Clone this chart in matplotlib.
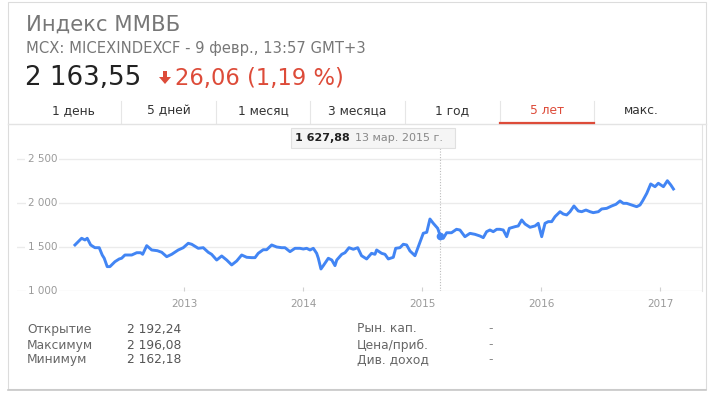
import matplotlib.pyplot as plt
from matplotlib.patches import Rectangle, Polygon
from matplotlib.lines import Line2D
import matplotlib.transforms as mtransforms

plt.rcParams['font.family'] = ['DejaVu Sans']

# index values (decimal year, points)
years = [2012.084, 2012.140, 2012.168, 2012.187, 2012.216, 2012.252, 2012.288, 2012.313,
         2012.330, 2012.355, 2012.378, 2012.420, 2012.456, 2012.476, 2012.504, 2012.561,
         2012.603, 2012.636, 2012.653, 2012.687, 2012.729, 2012.776, 2012.813, 2012.855,
         2012.897, 2012.952, 2012.994, 2013.036, 2013.065, 2013.120, 2013.162, 2013.204,
         2013.232, 2013.275, 2013.317, 2013.359, 2013.401, 2013.443, 2013.485, 2013.527,
         2013.569, 2013.597, 2013.624, 2013.666, 2013.695, 2013.737, 2013.779, 2013.821,
         2013.849, 2013.891, 2013.933, 2013.975, 2014.003, 2014.031, 2014.059, 2014.087,
         2014.115, 2014.129, 2014.151, 2014.171, 2014.213, 2014.242, 2014.269, 2014.284,
         2014.326, 2014.353, 2014.387, 2014.423, 2014.460, 2014.492, 2014.535, 2014.576,
         2014.605, 2014.619, 2014.661, 2014.689, 2014.717, 2014.759, 2014.779, 2014.815,
         2014.843, 2014.871, 2014.899, 2014.941, 2014.983, 2015.011, 2015.040, 2015.067,
         2015.095, 2015.132, 2015.151, 2015.179, 2015.207, 2015.248, 2015.290, 2015.319,
         2015.361, 2015.403, 2015.445, 2015.487, 2015.515, 2015.543, 2015.571, 2015.599,
         2015.628, 2015.655, 2015.683, 2015.712, 2015.734, 2015.782, 2015.809, 2015.838,
         2015.866, 2015.908, 2015.950, 2015.977, 2016.006, 2016.034, 2016.061, 2016.090,
         2016.118, 2016.160, 2016.187, 2016.216, 2016.244, 2016.277, 2016.313, 2016.342,
         2016.378, 2016.412, 2016.439, 2016.482, 2016.510, 2016.552, 2016.594, 2016.630,
         2016.664, 2016.692, 2016.720, 2016.762, 2016.804, 2016.832, 2016.855, 2016.889,
         2016.922, 2016.958, 2016.986, 2017.029, 2017.062, 2017.091, 2017.113]
values = [1523, 1599, 1580, 1599, 1523, 1492, 1492, 1409,
          1372, 1277, 1277, 1333, 1364, 1372, 1409, 1409,
          1435, 1435, 1417, 1515, 1466, 1458, 1440, 1390,
          1417, 1466, 1492, 1542, 1531, 1485, 1492, 1440,
          1417, 1352, 1398, 1352, 1296, 1341, 1409, 1383,
          1379, 1379, 1428, 1469, 1469, 1523, 1500, 1492,
          1492, 1447, 1485, 1485, 1477, 1485, 1466, 1485,
          1428, 1372, 1250, 1288, 1372, 1352, 1288, 1352,
          1417, 1435, 1492, 1474, 1492, 1401, 1364, 1428,
          1417, 1466, 1428, 1417, 1364, 1383, 1485, 1492,
          1531, 1523, 1455, 1401, 1553, 1656, 1667, 1818,
          1769, 1712, 1636, 1599, 1662, 1662, 1701, 1693,
          1617, 1655, 1644, 1625, 1606, 1674, 1693, 1674,
          1701, 1701, 1693, 1617, 1712, 1731, 1739, 1807,
          1761, 1724, 1739, 1769, 1617, 1769, 1788, 1788,
          1845, 1901, 1875, 1864, 1901, 1966, 1909, 1901,
          1920, 1901, 1890, 1901, 1932, 1939, 1966, 1985,
          2023, 1996, 1996, 1977, 1958, 1977, 2026, 2110,
          2216, 2185, 2224, 2185, 2253, 2204, 2159]

y_ticks = [1000, 1500, 2000, 2500]
y_labels = ['1 000', '1 500', '2 000', '2 500']
x_ticks = [2013, 2014, 2015, 2016, 2017]
x_labels = ['2013', '2014', '2015', '2016', '2017']

tabs = ['1 день', '5 дней', '1 месяц', '3 месяца', '1 год', '5 лет', 'макс.']
stat_names = ['Открытие', 'Максимум', 'Минимум']
stat_values = ['2 192,24', '2 196,08', '2 162,18']
stat_names2 = ['Рын. кап.', 'Цена/приб.', 'Див. доход']

hover_x = 2015.151
hover_y = 1627.88
hover_val = '1 627,88'
hover_date = '13 мар. 2015 г.'

W, H = 713, 395
fig = plt.figure(figsize=(W / 100, H / 100), dpi=100)


def fx(x):
    return x / W


def fy(y):
    return 1 - y / H


# card
fig.patches.append(Rectangle((fx(8), fy(389)), fx(706) - fx(8), fy(2) - fy(389),
                             transform=fig.transFigure, facecolor='white',
                             edgecolor='#dcdcdc', linewidth=0.8, zorder=-2))
fig.lines.append(Line2D([fx(8), fx(706)], [fy(390), fy(390)], transform=fig.transFigure,
                        color='#c8c8c8', linewidth=1.2, zorder=-1))

# header
fig.text(fx(26), fy(25), 'Индекс ММВБ', fontsize=15.2, color='#777777', va='center')
fig.text(fx(26), fy(48), 'MCX: MICEXINDEXCF - 9 февр., 13:57 GMT+3', fontsize=10.6,
         color='#777777', va='center')
fig.text(fx(25), fy(78), '2 163,55', fontsize=18.8, color='#222222', va='center')
fig.patches.append(Polygon([(fx(163), fy(71)), (fx(167), fy(71)), (fx(167), fy(77)),
                            (fx(171), fy(77)), (fx(165), fy(84)), (fx(159), fy(77)),
                            (fx(163), fy(77))],
                           closed=True, transform=fig.transFigure,
                           facecolor='#dd4b39', edgecolor='none'))
fig.text(fx(175), fy(78), '26,06 (1,19 %)', fontsize=16.3, color='#dd4b39', va='center')

# tabs
tab_left, tab_w = 26.5, 94.6
for i, t in enumerate(tabs):
    cx = tab_left + tab_w * (i + 0.5)
    fig.text(fx(cx), fy(111), t, fontsize=8.8, ha='center', va='center',
             color='#dd4b39' if t == '5 лет' else '#333333')
    if i > 0:
        sx = tab_left + tab_w * i
        fig.lines.append(Line2D([fx(sx), fx(sx)], [fy(101), fy(123)],
                                transform=fig.transFigure, color='#e6e6e6', linewidth=0.8))
fig.lines.append(Line2D([fx(8), fx(706)], [fy(124), fy(124)], transform=fig.transFigure,
                        color='#e3e3e3', linewidth=1))
sel = tabs.index('5 лет')
fig.lines.append(Line2D([fx(tab_left + tab_w * sel), fx(tab_left + tab_w * (sel + 1))],
                        [fy(122.5), fy(122.5)], transform=fig.transFigure,
                        color='#dd4b39', linewidth=1.6))

# chart
ax = fig.add_axes([fx(17), fy(291), fx(702) - fx(17), fy(125) - fy(291)])
ax.patch.set_alpha(0)
ax.set_xlim(2011.597, 2017.353)
ax.set_ylim(1000, 2886)
for s in ['top', 'left', 'bottom']:
    ax.spines[s].set_visible(False)
ax.spines['right'].set_color('#e3e3e3')
ax.set_yticks([])
for v in y_ticks:
    ax.axhline(v, color='#ebebeb', linewidth=1, zorder=0)
trans = mtransforms.blended_transform_factory(ax.transAxes, ax.transData)
for v, lab in zip(y_ticks, y_labels):
    ax.text((57 - 17) / (702 - 17), v, lab, transform=trans, ha='right', va='center',
            fontsize=7.5, color='#9a9a9a',
            bbox=dict(facecolor='white', edgecolor='none', pad=1.5))
ax.set_xticks(x_ticks)
ax.set_xticklabels(x_labels)
ax.tick_params(axis='x', direction='in', length=3, width=0.8, color='#d0d0d0',
               labelsize=7.5, labelcolor='#9a9a9a', pad=6)

ax.axvline(hover_x, ymin=0, ymax=(291 - 148) / (291 - 125), color='#bbbbbb',
           linestyle=(0, (1, 1.5)), linewidth=0.8, zorder=1)
ax.plot(years, values, color='#4285f4', linewidth=2.1, solid_joinstyle='round', zorder=3)
ax.plot([hover_x], [hover_y], 'o', color='#4285f4', markersize=4.5, zorder=4)

# tooltip
fig.patches.append(Rectangle((fx(291), fy(148)), fx(455) - fx(291), fy(128) - fy(148),
                             transform=fig.transFigure, facecolor='#f5f5f5',
                             edgecolor='#e0e0e0', linewidth=0.8))
fig.text(fx(295), fy(138), hover_val, fontsize=8, fontweight='bold', color='#222222',
         va='center')
fig.text(fx(355), fy(138), hover_date, fontsize=8, color='#888888', va='center')

# stats
rows_y = [329, 345, 360]
for y, n, v, n2 in zip(rows_y, stat_names, stat_values, stat_names2):
    fig.text(fx(27), fy(y), n, fontsize=8.8, color='#666666', va='center')
    fig.text(fx(127), fy(y), v, fontsize=8.8, color='#555555', va='center')
    fig.text(fx(357), fy(y), n2, fontsize=8.8, color='#666666', va='center')
    fig.text(fx(488), fy(y), '-', fontsize=8.8, color='#888888', va='center')

fig.savefig('out.png', dpi=100)
